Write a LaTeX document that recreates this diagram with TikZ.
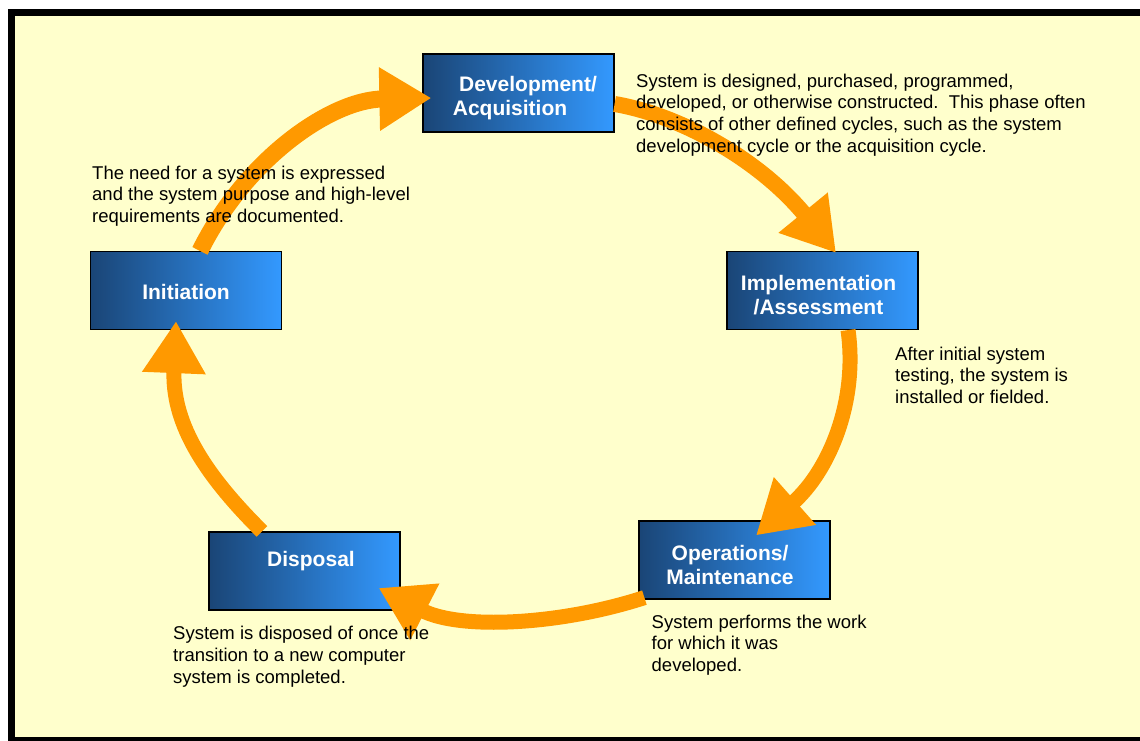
\documentclass[tikz,border=0pt]{standalone}
\usepackage{fontspec}
\setmainfont{Liberation Sans}
\usetikzlibrary{arrows.meta}
\definecolor{bgyellow}{HTML}{FFFFCC}
\definecolor{arroworange}{HTML}{FF9900}
\definecolor{boxdark}{HTML}{1A4576}
\definecolor{boxlight}{HTML}{3399FF}
\begin{document}
\begin{tikzpicture}[x=1pt,y=-1pt,
  phase/.style={draw=black, line width=1.2pt, left color=boxdark, right color=boxlight,
    minimum width=191pt, minimum height=78pt, inner sep=0pt, align=center,
    text=white, font=\fontsize{21}{24}\selectfont\bfseries},
  cyclearrow/.style={draw=arroworange, line width=15pt, line cap=butt,
    -{Triangle[length=52pt,width=60pt]}},
  desc/.style={anchor=north west, inner sep=0pt, align=left,
    font=\fontsize{18.5}{21.7}\selectfont, text=black}
]
\useasboundingbox (0,0) rectangle (1140,741);
\clip (0,0) rectangle (1140,741);
\draw[fill=bgyellow, line width=7pt] (11,12.5) rectangle (1170,740.5);

% phase boxes
\node[phase] (dev)  at (518.5,93)  {\rule{0pt}{25pt}\hspace*{19pt}Development/\\Acquisition\hspace*{17pt}};
\node[phase] (init) at (186,290.5) {\rule{0pt}{19pt}Initiation};
\node[phase] (impl) at (822.5,290.5) {\rule{0pt}{25pt}Implementation\hspace*{8pt}\\/Assessment\hspace*{8pt}};
\node[phase] (ops)  at (734.5,560) {\rule{0pt}{25pt}Operations/\hspace*{9pt}\\Maintenance\hspace*{9pt}};
\node[phase] (disp) at (304.5,571) {\hspace*{13pt}Disposal\\\mbox{}};

% cycle arrows
\draw[cyclearrow, line width=17pt] ([shift={(14,0)}]init.north) .. controls (245,160) and (330,100) .. ([shift={(9,5)}]dev.west);
\draw[cyclearrow, line width=16pt] ([shift={(0,11)}]dev.east) .. controls (680,115) and (760,160) .. ([shift={(13.5,2)}]impl.north);
\draw[cyclearrow] ([shift={(25.5,0)}]impl.south) .. controls (858,400) and (830,470) .. ([shift={(21.5,15)}]ops.north);
\draw[cyclearrow] ([shift={(6,-2)}]ops.south west) .. controls (560,625) and (460,630) .. ([shift={(-22,17)}]disp.east);
\draw[cyclearrow] ([shift={(-42.5,0)}]disp.north) .. controls (200,470) and (172,420) .. ([shift={(-10,-9)}]init.south);

% descriptions
\node[desc] (initdesc) at (92,165.6) {The need for a system is expressed\\and the system purpose and high-level\\requirements are documented.};
\node[desc] (devdesc) at (636,73.6) {System is designed, purchased, programmed,\\developed, or otherwise constructed.\ \ This phase often\\consists of other defined cycles, such as the system\\development cycle or the acquisition cycle.};
\node[desc] (impldesc) at (895,346.6) {After initial system\\testing, the system is\\installed or fielded.};
\node[desc] (opsdesc) at (651.5,614.6) {System performs the work\\for which it was\\developed.};
\node[desc] (dispdesc) at (173,626) {System is disposed of once the\\transition to a new computer\\system is completed.};
\end{tikzpicture}
\end{document}
